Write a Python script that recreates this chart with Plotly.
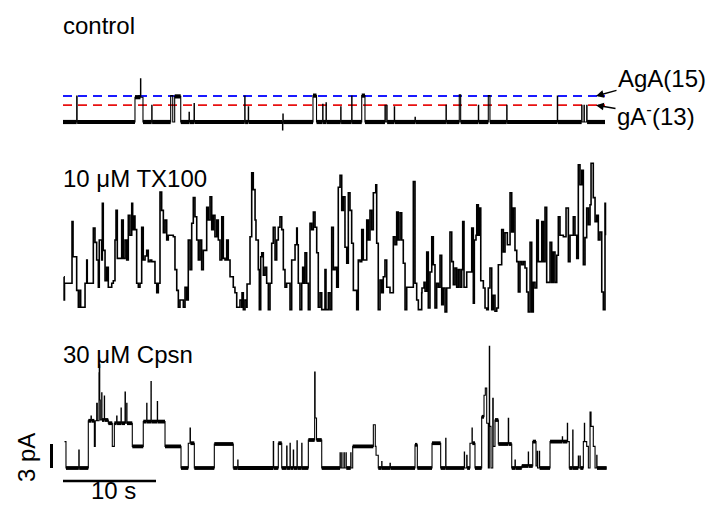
import plotly.graph_objects as go

# ------------------------------------------------------------------ data
# time in s, current in pA (each trace relative to its own closed level)

# control: brief openings on a closed baseline
ctrl_start = [1.47, 7.74, 8.33, 8.37, 9.54, 11.58, 12.01, 13.55, 14.09, 19.54,
              19.92, 23.60, 23.64, 26.88, 27.92, 28.28, 29.86, 31.04, 32.12, 34.62,
              34.81, 35.62, 37.85, 41.18, 42.61, 44.66, 45.73, 47.71, 53.15, 55.77,
              56.02, 56.31]
ctrl_end = [1.52, 8.33, 8.37, 8.60, 9.58, 11.80, 12.66, 13.59, 14.13, 19.58,
            19.96, 23.64, 23.68, 27.26, 27.96, 28.32, 29.90, 31.08, 32.47, 34.66,
            34.85, 35.66, 37.89, 41.22, 42.76, 44.70, 45.91, 47.75, 53.19, 55.81,
            56.06, 56.35]
ctrl_level = [3.25, 3.1, 5.4, 3.1, 2.1, 3.3, 3.2, 1.2, 2.3, 3.25,
              1.9, -1.0, 1.0, 3.3, 2.2, 2.4, 1.9, 3.25, 3.3, 2.1,
              2.1, 1.9, 0.6, 2.1, 3.4, 2.1, 3.3, 2.1, 3.25, 2.1,
              2.1, 2.1]
ctrl_duration = 58.28

# reference single-channel current levels
agA_level = 3.25    # AgA(15)
gA_level = 2.1      # gA-(13)

# 10 uM TX100: (time, current)
tx100_points = [
    (0.11, 3.9), (0.12, 1.0), (0.16, 3.1), (0.75, 3.1), (0.97, 10.8), (1.08, 6.4), (1.29, 6.4),
    (1.47, 2.2), (1.65, 0.1), (1.83, 2.2), (1.90, 0.1), (2.18, 0.1), (2.37, 3.1), (2.55, 6.0),
    (2.61, 3.1), (3.09, 3.1), (3.26, 10.0), (3.44, 8.2), (3.62, 6.0), (3.80, 2.6), (3.90, 8.5),
    (4.16, 6.0), (4.23, 13.1), (4.33, 7.2), (4.52, 3.4), (4.70, 5.1), (4.87, 2.6), (5.24, 3.1),
    (5.41, 3.4), (5.59, 8.5), (5.70, 12.2), (5.84, 6.2), (6.13, 6.2), (6.31, 11.0), (6.48, 6.2),
    (6.67, 8.5), (6.85, 6.0), (7.02, 11.6), (7.20, 9.1), (7.39, 13.1), (7.49, 9.8), (7.63, 11.5),
    (7.74, 9.8), (7.92, 3.1), (8.10, 2.6), (8.28, 3.1), (8.46, 10.1), (8.63, 6.0), (8.82, 6.5),
    (9.00, 7.2), (9.17, 5.8), (9.36, 6.0), (9.54, 5.8), (9.89, 3.1), (10.08, 1.9), (10.25, 3.1),
    (10.43, 14.5), (10.61, 12.2), (10.79, 9.4), (10.97, 11.0), (11.15, 8.5), (11.32, 9.1),
    (11.69, 9.1), (11.86, 8.9), (12.04, 4.8), (12.23, 2.2), (12.40, 0.1), (12.58, 1.0),
    (12.94, 0.1), (13.12, 2.6), (13.30, 1.0), (13.47, 8.5), (13.66, 4.8), (13.84, 10.6),
    (14.01, 13.8), (14.19, 11.4), (14.38, 8.5), (14.55, 6.0), (14.73, 8.5), (14.91, 4.8),
    (15.09, 7.2), (15.45, 12.6), (15.62, 11.0), (15.81, 13.9), (15.99, 9.8), (16.16, 11.6),
    (16.34, 8.9), (16.53, 11.0), (16.70, 8.5), (16.88, 6.0), (17.07, 11.4), (17.24, 6.2),
    (17.42, 6.0), (17.60, 8.5), (17.77, 6.0), (17.96, 3.9), (18.31, 2.6), (18.49, 1.9),
    (18.68, 0.1), (19.03, 1.0), (19.22, 0.1), (19.25, 1.9), (19.39, -0.2), (19.57, 1.0),
    (19.75, 0.1), (19.79, 3.0), (19.93, 3.0), (20.11, 8.9), (20.29, 16.9), (20.46, 14.8),
    (20.65, 11.0), (20.75, 8.5), (21.00, 4.8), (21.11, -0.2), (21.26, 6.4), (21.37, 6.9),
    (21.54, 4.1), (21.72, 5.1), (21.90, 3.1), (22.08, -0.2), (22.26, 3.1), (22.44, 8.1),
    (22.61, 10.1), (22.80, 6.0), (22.98, 8.5), (23.15, 10.1), (23.33, 11.4), (23.52, 9.8),
    (23.69, 4.8), (23.87, 2.6), (24.05, 3.1), (24.30, 3.1), (24.41, -0.2), (24.59, 6.0),
    (24.76, 6.0), (24.95, 7.9), (25.13, 10.0), (25.19, 7.9), (25.30, 3.1), (25.48, -0.2),
    (25.67, 3.1), (25.77, 5.1), (25.91, 3.1), (26.02, 6.9), (26.20, 3.1), (26.38, -0.2),
    (26.56, 10.6), (26.74, 9.8), (26.92, 12.0), (27.10, 10.1), (27.28, 6.9), (27.45, 0.1),
    (27.64, 1.9), (27.82, -0.2), (28.17, 4.8), (28.28, -0.2), (28.53, 1.9), (28.71, -0.2),
    (28.89, 10.1), (29.07, 4.8), (29.25, 5.1), (29.43, 2.6), (29.60, 15.1), (29.79, 16.6),
    (29.97, 12.2), (30.14, 13.9), (30.32, 7.6), (30.51, 5.6), (30.68, 14.4), (30.86, 12.2),
    (31.04, 8.1), (31.22, 2.2), (31.58, -0.2), (31.75, 6.0), (31.94, 5.8), (32.12, 9.8),
    (32.29, 6.0), (32.66, 11.0), (32.83, 8.5), (33.01, 12.2), (33.19, 9.8), (33.37, 14.4),
    (33.63, 15.4), (33.73, 8.1), (33.90, -0.2), (34.09, 3.5), (34.27, 1.9), (34.44, 3.9),
    (34.62, 6.0), (34.81, 2.6), (35.16, 1.9), (35.52, 8.9), (35.70, 7.9), (35.88, 12.0),
    (36.05, 8.5), (36.24, 11.9), (36.42, 8.5), (36.59, 5.6), (36.78, -0.2), (36.96, 2.6),
    (37.31, 2.6), (37.67, 15.8), (37.85, 3.1), (38.03, 1.0), (38.21, -0.2), (38.57, 1.9),
    (38.60, 2.5), (38.82, 3.2), (38.93, 2.1), (39.11, 7.0), (39.28, 0.0), (39.46, 4.5),
    (39.65, 8.9), (39.82, 5.4), (40.00, 0.0), (40.18, 3.1), (40.36, 2.6), (40.54, 6.6),
    (40.72, 0.4), (40.89, 2.5), (41.08, -0.5), (41.26, 2.5), (41.54, 2.5), (41.61, 9.5),
    (41.80, 5.8), (41.97, 2.9), (42.15, 5.0), (42.33, 2.6), (42.51, 4.8), (42.69, 2.6),
    (42.87, 4.8), (42.98, 10.8), (43.12, 2.6), (43.41, 4.5), (43.76, 4.5), (43.95, 10.0),
    (44.12, 0.6), (44.23, 8.5), (44.41, 9.1), (44.49, 12.9), (44.66, 9.1), (44.77, 12.5),
    (44.92, 3.4), (45.20, 2.5), (45.38, 0.0), (45.56, -0.2), (45.73, 2.5), (45.91, 5.0),
    (46.10, -0.2), (46.27, 1.6), (46.45, -0.4), (46.64, 0.0), (46.81, 5.4), (47.17, 9.8),
    (47.35, 7.0), (47.53, 9.4), (47.78, 7.9), (48.07, 14.4), (48.25, 9.5), (48.42, 12.5),
    (48.60, 7.2), (48.79, 5.8), (48.96, 2.0), (49.14, 5.8), (49.32, 5.4), (49.50, 5.8),
    (49.68, 5.0), (49.86, 2.0), (50.03, -0.5), (50.22, 8.2), (50.40, -0.5), (50.57, 3.2),
    (50.75, 2.5), (50.94, 11.0), (51.11, 5.8), (51.48, 10.8), (51.65, 5.8), (51.83, 12.6),
    (52.01, 3.2), (52.37, 8.2), (52.55, 3.2), (52.72, 7.0), (52.90, 3.2), (53.09, 6.6),
    (53.26, 11.4), (53.44, 9.1), (53.80, 8.9), (54.09, 12.5), (54.34, 5.8), (54.52, 9.1),
    (54.87, 11.4), (55.05, 9.1), (55.24, 6.2), (55.41, 17.9), (55.59, 15.4), (55.78, 17.2),
    (55.95, 5.4), (56.13, 8.8), (56.31, 12.5), (56.49, 10.4), (56.67, 12.9), (56.78, 18.1),
    (57.02, 13.8), (57.21, 10.8), (57.39, 11.6), (57.56, 8.5), (57.74, 9.5), (57.93, 2.0),
    (58.10, -0.2), (58.28, 13.1), (58.33, 9.1),
]

# 30 uM Cpsn: current steps (time of transition, new level)
cpsn_steps = [
    (0.16, 3.3), (0.32, 0), (1.70, 2.25), (1.74, 0), (2.72, 5.9), (3.01, 6.5), (3.05, 5.9),
    (3.37, 2.7), (3.47, 5.9), (3.62, 8.1), (3.69, 5.9), (3.87, 11.9), (3.90, 12.9), (3.95, 8.5),
    (4.01, 6.0), (4.16, 9.4), (4.19, 6.0), (4.44, 9.0), (4.47, 6.0), (4.87, 5.6), (5.30, 2.7),
    (5.52, 5.6), (5.77, 6.5), (5.81, 5.6), (6.24, 7.5), (6.27, 5.6), (6.67, 9.5), (6.71, 5.6),
    (6.85, 8.1), (6.88, 5.6), (7.45, 2.7), (8.63, 5.8), (9.00, 8.1), (9.03, 5.8), (9.46, 10.8),
    (9.49, 5.8), (10.14, 8.3), (10.17, 5.8), (10.97, 2.7), (12.69, 0), (13.47, 3.1), (13.66, 5.0),
    (13.70, 3.1), (14.12, 0), (16.27, 3.0), (18.31, 0), (18.79, 1.0), (18.82, 0), (22.61, 3.3),
    (22.65, 0), (23.15, 3.1), (23.52, 0), (24.05, 2.75), (24.09, 0), (24.41, 3.1), (24.44, 0),
    (24.76, 2.25), (24.80, 0), (25.16, 3.4), (25.19, 0), (25.67, 3.1), (25.70, 0), (26.38, 3.5),
    (27.06, 12.0), (27.11, 6.25), (27.26, 3.5), (27.82, 0), (29.79, 1.9), (29.82, 0),
    (29.97, 1.9), (30.00, 0), (30.21, 1.9), (30.25, 0), (30.43, 1.9), (30.46, 0), (30.94, 1.9),
    (30.97, 0), (31.15, 2.7), (33.37, 5.4), (33.58, 2.7), (33.66, 1.6), (33.90, 0), (34.27, 0.8),
    (34.30, 0), (35.16, 0.6), (35.20, 0), (37.85, 2.9), (38.10, 0), (39.68, 3.1), (40.61, 0),
    (41.15, 3.7), (41.18, 0), (43.15, 2.0), (43.18, 0), (43.41, 1.6), (43.45, 0), (43.76, 3.1),
    (43.98, 5.0), (44.01, 3.1), (44.30, 0), (45.02, 6.4), (45.27, 9.1), (45.41, 10.0),
    (45.56, 5.6), (45.73, 0), (45.84, 15.2), (45.88, 5.2), (46.02, 0), (46.21, 8.7), (46.26, 2.7),
    (46.45, 6.0), (46.81, 3.0), (47.88, 6.2), (47.92, 3.0), (48.25, 0), (48.60, 1.0), (48.64, 0),
    (49.33, 0.25), (50.03, 2.0), (50.06, 0.25), (50.51, 3.3), (50.86, 0.25), (51.00, 2.1),
    (51.03, 0), (51.22, 2.1), (51.25, 0), (52.37, 3.3), (53.69, 3.9), (53.72, 3.3), (54.23, 5.6),
    (54.26, 3.3), (54.44, 0), (54.81, 4.75), (54.84, 0), (55.41, 1.5), (55.44, 0), (55.59, 1.5),
    (55.62, 0), (55.95, 3.3), (56.06, 5.6), (56.09, 3.3), (56.31, 2.7), (56.49, 0), (56.67, 7.0),
    (56.78, 5.2), (57.02, 2.7), (57.21, 0), (57.39, 1.6), (57.42, 0), (58.46, 0),
]

panel_labels = ["control", "10 \u03bcM TX100", "30 \u03bcM Cpsn"]
scale_time = 10   # s
scale_current = 3  # pA

# ------------------------------------------------------------------ layout helpers
W, H = 710, 506
PX_PER_S = 9.3
PX_PER_PA = 8.0
X0_PX = 63.0
FONT = "Liberation Sans, Arial, sans-serif"
FS = 24


def py2paper(py):
    return 1 - py / H


def px2paper(px):
    return px / W


def panel_axis(top_px, bottom_px, base_px):
    return dict(domain=[py2paper(bottom_px), py2paper(top_px)],
                range=[(base_px - bottom_px) / PX_PER_PA, (base_px - top_px) / PX_PER_PA],
                visible=False, showgrid=False, zeroline=False, fixedrange=True)


def events_to_steps(starts, ends, levels, t_end):
    ts, ys = [0.0], [0.0]
    for k, (s, e, lv) in enumerate(zip(starts, ends, levels)):
        ts.append(s)
        ys.append(lv)
        nxt = starts[k + 1] if k + 1 < len(starts) else None
        if nxt is None or nxt > e + 1e-9:
            ts.append(e)
            ys.append(0.0)
    ts.append(t_end)
    ys.append(ys[-1])
    return ts, ys


def dwell_segments(ts, ys, min_dur):
    sx, sy = [], []
    for k in range(len(ts) - 1):
        if ts[k + 1] - ts[k] >= min_dur:
            sx += [ts[k], ts[k + 1], None]
            sy += [ys[k], ys[k], None]
    return sx, sy


fig = go.Figure()

# ---- control
ct, ci = events_to_steps(ctrl_start, ctrl_end, ctrl_level, ctrl_duration)
fig.add_trace(go.Scatter(x=[0, ctrl_duration], y=[agA_level, agA_level], mode="lines",
                         line=dict(color="#1a1aff", width=1.8, dash="9px,6px"), yaxis="y"))
fig.add_trace(go.Scatter(x=[0, ctrl_duration], y=[gA_level, gA_level], mode="lines",
                         line=dict(color="#e81010", width=1.8, dash="9px,6px"), yaxis="y"))
dx, dy = dwell_segments(ct, ci, 0.3)
fig.add_trace(go.Scatter(x=dx, y=dy, mode="lines", line=dict(color="black", width=4.2),
                         yaxis="y"))
fig.add_trace(go.Scatter(x=ct, y=ci, mode="lines", line=dict(color="black", width=1.1, shape="hv"),
                         yaxis="y"))

# ---- TX100
tt = [p[0] for p in tx100_points]
ti = [p[1] for p in tx100_points]
fig.add_trace(go.Scatter(x=tt, y=ti, mode="lines",
                         line=dict(color="black", width=1.6, shape="hv"), yaxis="y2"))

# ---- Cpsn
pt = [p[0] for p in cpsn_steps]
pi = [p[1] for p in cpsn_steps]
dx, dy = dwell_segments(pt, pi, 0.25)
fig.add_trace(go.Scatter(x=dx, y=dy, mode="lines", line=dict(color="black", width=3.8),
                         yaxis="y3"))
fig.add_trace(go.Scatter(x=pt, y=pi, mode="lines", line=dict(color="black", width=1.1, shape="hv"),
                         yaxis="y3"))

# ---- scale bars (on the Cpsn axes)
bar_y = -13 / PX_PER_PA
bar_x = -11.5 / PX_PER_S
fig.add_shape(type="line", xref="x", yref="y3", x0=0, x1=scale_time, y0=bar_y, y1=bar_y,
              line=dict(color="black", width=2.5))
fig.add_shape(type="line", xref="x", yref="y3", x0=bar_x, x1=bar_x, y0=0, y1=scale_current,
              line=dict(color="black", width=3))

ann = []
label_centres = [25, 179, 354]
for lab, cy in zip(panel_labels, label_centres):
    ann.append(dict(text=lab, xref="paper", yref="paper", x=px2paper(61), y=py2paper(cy),
                    xanchor="left", yanchor="middle", showarrow=False,
                    font=dict(family=FONT, size=FS, color="black")))

# channel-level labels with arrows pointing at the dashed reference lines
tip_t = (596 - X0_PX) / PX_PER_S
ann.append(dict(text="AgA(15)", x=tip_t, y=agA_level, xref="x", yref="y", showarrow=True,
                ax=66, ay=-18, arrowhead=2, arrowsize=1.1, arrowwidth=1.4, arrowcolor="black",
                font=dict(family=FONT, size=FS, color="black")))
ann.append(dict(text="gA<sup>-</sup>(13)", x=tip_t, y=gA_level, xref="x", yref="y",
                showarrow=True, ax=60, ay=10, arrowhead=2, arrowsize=1.1, arrowwidth=1.4,
                arrowcolor="black", font=dict(family=FONT, size=FS, color="black")))

ann.append(dict(text=f"{scale_time} s", xref="paper", yref="paper", x=px2paper(113),
                y=py2paper(490), xanchor="center", yanchor="middle", showarrow=False,
                font=dict(family=FONT, size=FS, color="black")))
ann.append(dict(text=f"{scale_current} pA", xref="paper", yref="paper", x=px2paper(26),
                y=py2paper(458), xanchor="center", yanchor="middle", showarrow=False,
                textangle=-90, font=dict(family=FONT, size=FS, color="black")))

fig.update_layout(
    width=W, height=H, margin=dict(l=0, r=0, t=0, b=0),
    paper_bgcolor="white", plot_bgcolor="white", showlegend=False,
    xaxis=dict(range=[-X0_PX / PX_PER_S, (W - X0_PX) / PX_PER_S], domain=[0, 1],
               visible=False, showgrid=False, zeroline=False, fixedrange=True),
    yaxis=panel_axis(50, 145, 122),
    yaxis2=panel_axis(150, 322, 308),
    yaxis3=panel_axis(330, 492, 468),
    annotations=ann,
    hovermode=False,
)

fig.write_html("out.html", config={"displayModeBar": False})
